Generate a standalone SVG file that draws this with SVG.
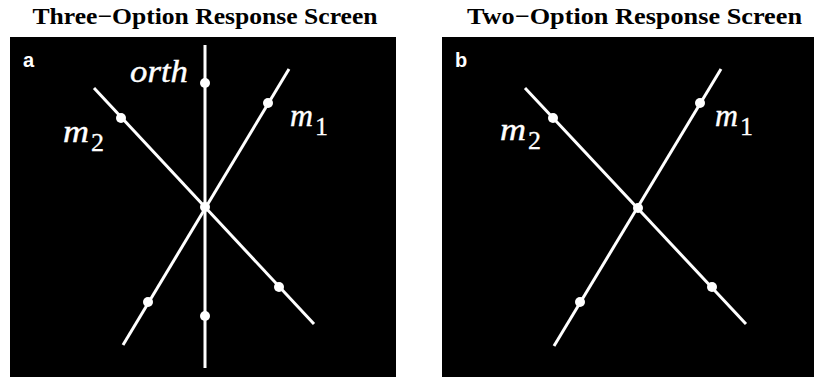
<svg xmlns="http://www.w3.org/2000/svg" width="817" height="379" viewBox="0 0 817 379">
<style>
.title{font-family:"Liberation Serif","DejaVu Serif",serif;font-weight:bold;font-size:23px;fill:#000;text-anchor:middle}
.panel{fill:#000}
.ln{stroke:#fff;stroke-width:3;fill:none}
.dot{fill:#fff}
.lab{font-family:"Liberation Serif","DejaVu Serif",serif;font-style:italic;font-size:31px;fill:#fff;stroke:#fff;stroke-width:0.4}
.sub{font-family:"Liberation Serif","DejaVu Serif",serif;font-size:26px;fill:#fff;stroke:#fff;stroke-width:0.3}
.tag{font-family:"Liberation Sans",Arial,sans-serif;font-weight:bold;font-size:20px;fill:#fff}
</style>
<rect width="817" height="379" fill="#fff"/>
<g id="panel-a">
<text class="title" x="205" y="24" textLength="345" lengthAdjust="spacingAndGlyphs">Three−Option Response Screen</text>
<rect class="panel" x="10" y="37" width="386" height="340"/>
<text class="tag" x="23" y="67">a</text>
<g id="a-lines">
<line class="ln" x1="205" y1="45" x2="205" y2="368"/>
<line class="ln" x1="123" y1="345" x2="289" y2="69"/>
<line class="ln" x1="94" y1="88" x2="314" y2="324"/>
</g>
<g id="a-dots">
<circle class="dot" cx="205" cy="207" r="5"/>
<circle class="dot" cx="205" cy="83" r="5"/>
<circle class="dot" cx="205" cy="316" r="5"/>
<circle class="dot" cx="268" cy="103" r="5"/>
<circle class="dot" cx="148" cy="302" r="5"/>
<circle class="dot" cx="121" cy="118" r="5"/>
<circle class="dot" cx="279" cy="287" r="5"/>
</g>
<g id="a-labels">
<text class="lab" x="130" y="82" textLength="58" lengthAdjust="spacingAndGlyphs">orth</text>
<text class="lab" x="63" y="142" textLength="26" lengthAdjust="spacingAndGlyphs">m</text><text class="sub" x="91" y="151">2</text>
<text class="lab" x="290" y="126" textLength="23" lengthAdjust="spacingAndGlyphs">m</text><text class="sub" x="315" y="135">1</text>
</g>
</g>
<g id="panel-b">
<text class="title" x="634.5" y="24" textLength="335" lengthAdjust="spacingAndGlyphs">Two−Option Response Screen</text>
<rect class="panel" x="442" y="37" width="372" height="340"/>
<text class="tag" x="455" y="67">b</text>
<g id="b-lines">
<line class="ln" x1="554" y1="346" x2="721" y2="69"/>
<line class="ln" x1="525" y1="88" x2="746" y2="324"/>
</g>
<g id="b-dots">
<circle class="dot" cx="638" cy="208" r="5"/>
<circle class="dot" cx="700" cy="103" r="5"/>
<circle class="dot" cx="580" cy="302" r="5"/>
<circle class="dot" cx="553" cy="118" r="5"/>
<circle class="dot" cx="712" cy="287" r="5"/>
</g>
<g id="b-labels">
<text class="lab" x="500" y="140" textLength="26" lengthAdjust="spacingAndGlyphs">m</text><text class="sub" x="528" y="149">2</text>
<text class="lab" x="715" y="126" textLength="23" lengthAdjust="spacingAndGlyphs">m</text><text class="sub" x="740" y="135">1</text>
</g>
</g>
</svg>
